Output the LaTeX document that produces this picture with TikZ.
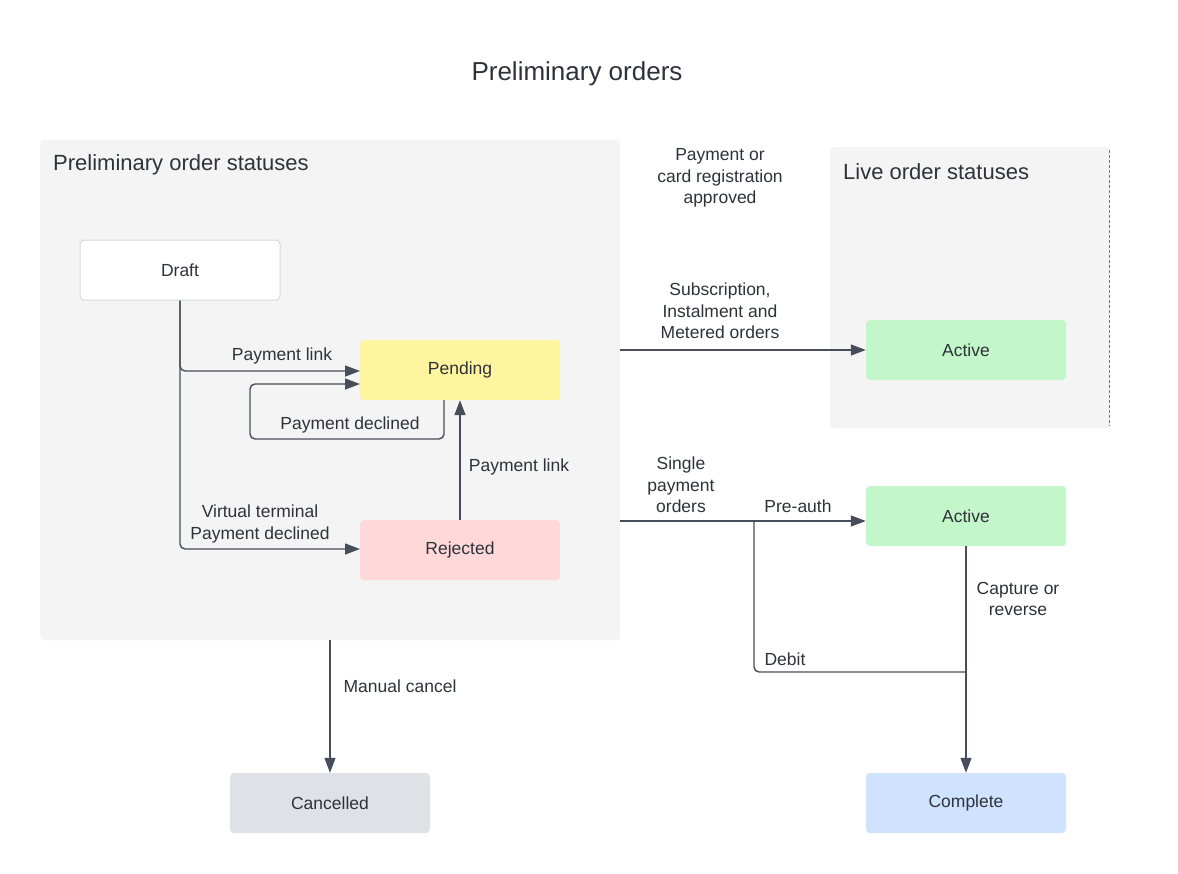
\documentclass[tikz,border=0pt]{standalone}
\usepackage{fontspec}
\setmainfont{Liberation Sans}
\usetikzlibrary{arrows.meta}
\definecolor{edge}{HTML}{474D5A}
\definecolor{txt}{HTML}{2E323B}
\definecolor{panel}{HTML}{F4F4F4}
\definecolor{pend}{HTML}{FFF59F}
\definecolor{rej}{HTML}{FFD8D9}
\definecolor{act}{HTML}{C3F6C9}
\definecolor{canc}{HTML}{DEE1E5}
\definecolor{comp}{HTML}{CFE3FE}
\definecolor{drb}{HTML}{D5D8DD}
\tikzset{
  state/.style={minimum width=200pt,minimum height=60pt,rounded corners=4pt,inner sep=0pt,text=txt,font=\fontsize{17.5}{20}\selectfont},
  panelbox/.style={fill=panel,rounded corners=4pt,draw=none},
  conn/.style={draw=edge,line width=1.4pt,rounded corners=5pt,-{Triangle[length=15pt,width=11pt]}},
  plain/.style={draw=edge,line width=1.4pt,rounded corners=5pt},
  lbl/.style={text=txt,font=\fontsize{17.5}{21.5}\selectfont,align=center,inner sep=0pt},
}
\begin{document}
\begin{tikzpicture}[x=1pt,y=-1pt]
\useasboundingbox (0,0) rectangle (1178,873);
\fill[white] (0,0) rectangle (1178,873);
% panels
\node[panelbox,minimum width=580pt,minimum height=500pt,anchor=north west,inner sep=0pt] (prelim) at (40,140) {};
\node[panelbox,minimum width=280pt,minimum height=281pt,anchor=north west,inner sep=0pt] (live) at (830,147) {};
\draw[gray!90!black,line width=1pt,dashed,dash pattern=on 3pt off 2pt] (1109,150) -- (1109,426);
% titles
\node[lbl,font=\fontsize{26}{30}\selectfont] (title) at (577,74) {Preliminary orders};
\node[lbl,anchor=west,font=\fontsize{22}{26}\selectfont] (ptitle) at (53,165) {Preliminary order statuses};
\node[lbl,anchor=west,font=\fontsize{22}{26}\selectfont] (ltitle) at (843,172) {Live order statuses};
% states
\node[state,fill=white,draw=drb,line width=1pt] (draft) at (180,270) {Draft};
\node[state,fill=pend] (pending) at (460,370) {Pending};
\node[state,fill=rej] (rejected) at (460,550) {Rejected};
\node[state,fill=act] (active1) at (966,350) {Active};
\node[state,fill=act] (active2) at (966,516) {Active};
\node[state,fill=canc] (cancelled) at (330,803) {Cancelled};
\node[state,fill=comp] (complete) at (966,803) {Complete};
% coordinates
\coordinate (pr1) at (620,350);
\coordinate (pr2) at (620,521);
\coordinate (pbot) at (330,640);
% connectors
\draw[conn] (draft.south) |- (360,371);
\draw[conn] (draft.south) |- (360,549);
\draw[conn] (444,400) -- (444,439) -- (250,439) -- (250,384) -- (360,384);
\draw[conn] (rejected.north) -- (pending.south);
\draw[conn] (pr1) -- (active1.west |- pr1);
\draw[conn] (pr2) -- (active2.west |- pr2);
\draw[plain] (754,521) -- (754,672) -- (966,672);
\draw[conn] (active2.south) -- (complete.north);
\draw[conn] (pbot) -- (cancelled.north);
% labels
\node[lbl] at (282,356) {Payment link};
\node[lbl] at (260,524) {Virtual terminal\\Payment declined};
\node[lbl] at (350,425) {Payment declined};
\node[lbl] at (519,467) {Payment link};
\node[lbl] at (720,178) {Payment or\\card registration\\approved};
\node[lbl] at (720,311) {Subscription,\\Instalment and\\Metered orders};
\node[lbl] at (681,485) {Single\\payment\\orders};
\node[lbl] at (798,506) {Pre-auth};
\node[lbl] at (785,659) {Debit};
\node[lbl] at (1018,599) {Capture or\\reverse};
\node[lbl] at (400,686) {Manual cancel};
\end{tikzpicture}
\end{document}
